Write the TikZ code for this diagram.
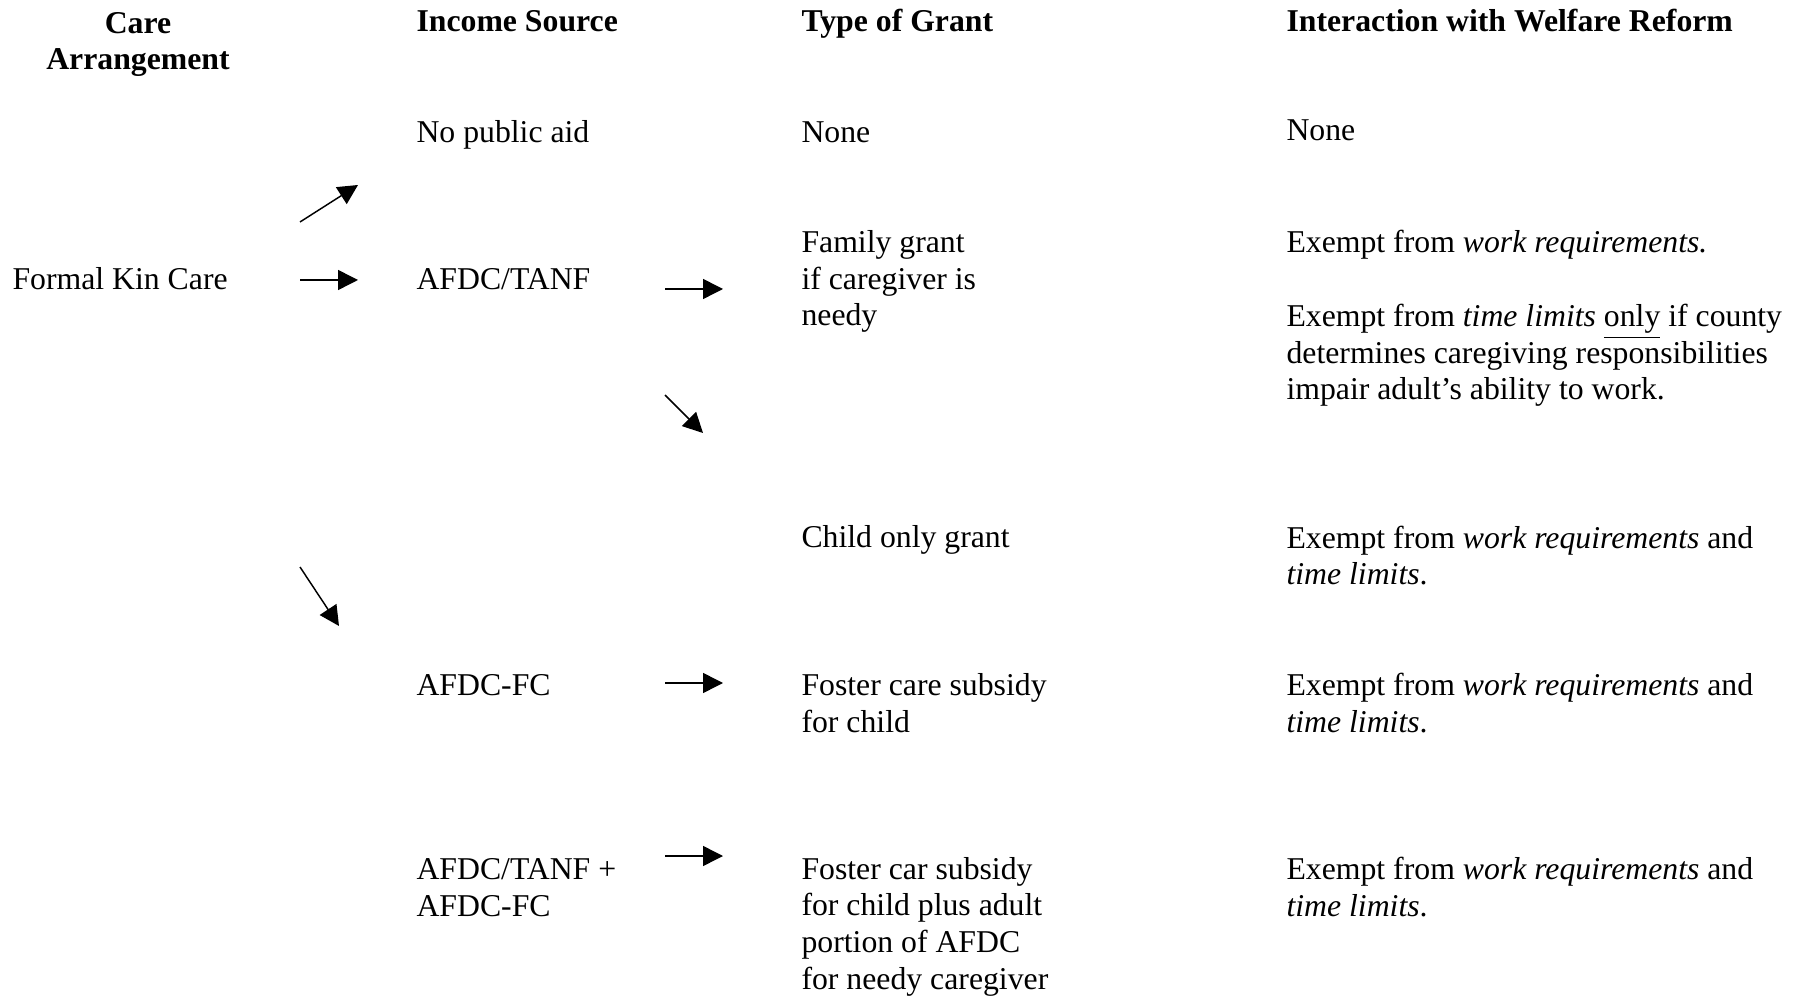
\documentclass[tikz,border=0pt]{standalone}
\usepackage{fontspec}
\setmainfont{Liberation Serif}
\usetikzlibrary{arrows.meta}

\tikzset{
  txt/.style={anchor=base west, inner sep=0pt, align=left, font=\fontsize{12}{13.8}\selectfont},
  hdr/.style={txt, font=\fontsize{12}{13.8}\selectfont\bfseries},
  arr/.style={-{Triangle[length=7.5pt, width=7.5pt]}, line width=0.55pt}
}

\begin{document}
\begin{tikzpicture}[x=0.378pt, y=-0.378pt]
  \useasboundingbox (0,0) rectangle (1802,997);

  % headers (multi-line nodes sit on their last baseline)
  \node (care) [hdr, anchor=base, align=center] at (138,70) {Care\\Arrangement};
  \node (income) [hdr] at (416,32) {Income Source};
  \node (grant) [hdr] at (801,32) {Type of Grant};
  \node (reform) [hdr] at (1286,32) {Interaction with Welfare Reform};

  % first column
  \node (kin) [txt] at (12,290) {Formal Kin Care};

  % income sources
  \node (noaid) [txt] at (416,143) {No public aid};
  \node (tanf) [txt] at (416,290) {AFDC/TANF};
  \node (fc) [txt] at (416,695) {AFDC-FC};
  \node (both) [txt] at (416,916) {AFDC/TANF +\\AFDC-FC};

  % grants
  \node (nogrant) [txt] at (801,143) {None};
  \node (family) [txt] at (801,326) {Family grant\\if caregiver is\\needy};
  \node (childonly) [txt] at (801,548) {Child only grant};
  \node (foster) [txt] at (801,732) {Foster care subsidy\\for child};
  \node (fosteradult) [txt] at (801,989) {Foster car subsidy\\for child plus adult\\portion of AFDC\\for needy caregiver};

  % welfare reform
  \node (noreform) [txt] at (1286,141) {None};
  \node (workex) [txt] at (1286,253) {Exempt from \textit{work requirements.}};
  \node (timeex) [txt] at (1286,400) {Exempt from \textit{time limits} \underline{only} if county\\determines caregiving responsibilities\\impair adult’s ability to work.};
  \node (childex) [txt] at (1286,585) {Exempt from \textit{work requirements} and\\\textit{time limits}.};
  \node (fosterex) [txt] at (1286,732) {Exempt from \textit{work requirements} and\\\textit{time limits}.};
  \node (bothex) [txt] at (1286,916) {Exempt from \textit{work requirements} and\\\textit{time limits}.};

  % arrow ends
  \coordinate (a1) at (300,222); \coordinate (b1) at (358,185);
  \coordinate (a2) at (300,280); \coordinate (b2) at (358,280);
  \coordinate (a3) at (665,289); \coordinate (b3) at (723,289);
  \coordinate (a4) at (665,395); \coordinate (b4) at (703,433);
  \coordinate (a5) at (300,567); \coordinate (b5) at (339,626);
  \coordinate (a6) at (665,683); \coordinate (b6) at (723,683);
  \coordinate (a7) at (665,856); \coordinate (b7) at (723,856);

  \draw[arr] (a1) -- (b1);
  \draw[arr] (a2) -- (b2);
  \draw[arr] (a3) -- (b3);
  \draw[arr] (a4) -- (b4);
  \draw[arr] (a5) -- (b5);
  \draw[arr] (a6) -- (b6);
  \draw[arr] (a7) -- (b7);
\end{tikzpicture}
\end{document}
